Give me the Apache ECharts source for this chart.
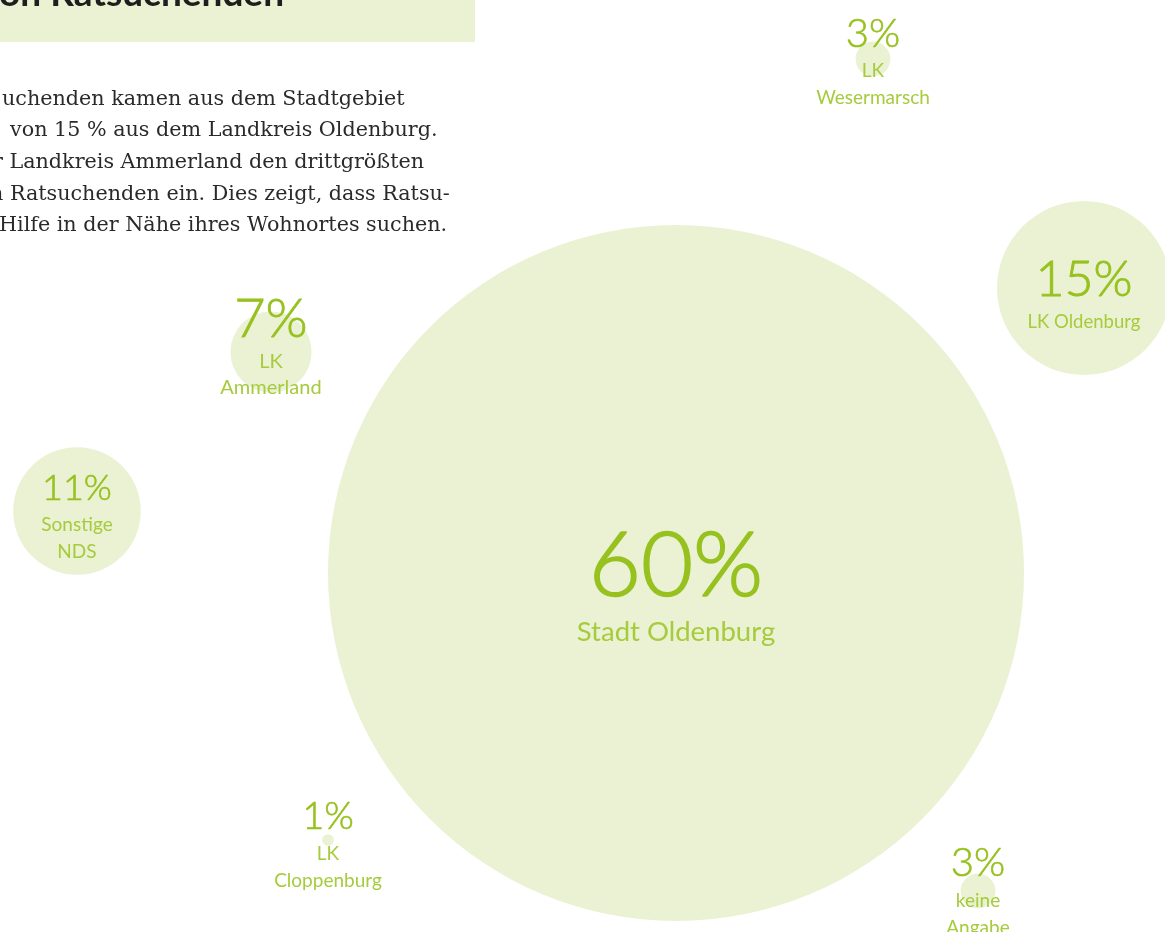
<!DOCTYPE html>
<html>
<head>
<meta charset="utf-8">
<script src="https://cdn.jsdelivr.net/npm/echarts@6/dist/echarts.min.js"></script>
<style>
html,body{margin:0;padding:0;background:#fff;}
#chart{width:1165px;height:932px;}
</style>
</head>
<body>
<div id="chart"></div>
<script>
// ---- data ----
const categories = ['Stadt Oldenburg', 'LK Oldenburg', 'Sonstige NDS', 'LK Ammerland', 'LK Wesermarsch', 'LK Cloppenburg', 'keine Angabe'];
const shares = [60, 15, 11, 7, 3, 1, 3];
const labelNames = ['Stadt Oldenburg', 'LK Oldenburg', 'Sonstige\nNDS', 'LK\nAmmerland', 'LK\nWesermarsch', 'LK\nCloppenburg', 'keine\nAngabe'];
const titleText = 'von Ratsuchenden';
const bodyLines = [
  'uchenden kamen aus dem Stadtgebiet',
  'von 15 % aus dem Landkreis Oldenburg.',
  'r Landkreis Ammerland den drittgrößten',
  'n Ratsuchenden ein. Dies zeigt, dass Ratsu-',
  'Hilfe in der Nähe ihres Wohnortes suchen.'
];

// ---- layout (bubble positions in layout units, label styling) ----
const posX = [676, 1084, 77, 271, 873, 328, 978];
const posY = [573, 288, 511, 352, 59, 840, 891];
const pctFont = [90, 50, 36, 54, 40, 38, 40];
const pctStroke = [1.6, 0.9, 0.6, 0.8, 0.6, 0.6, 0.6];
const nameFont = [27.5, 18.5, 19, 20, 19, 19, 19];
const pctRel = [-7, -9, -24, -33, -26, -24, -29];
const nameRel = [58, 33, 13, 9, 11, 13, 9];
const nameGap = [32, 26, 27, 26, 27, 27, 27];
const bias = 1;
const bodyX = [2, 10, -7, -10, -1];
const diameterPerPercent = 11.6;

const GREEN = '#97c11f';
const GREEN_LIGHT = '#a6cb3c';
const FILL = '#eaf2d3';
const FONT = 'Lato, "Open Sans", sans-serif';

const data = categories.map((c, i) => {
  const nLines = labelNames[i].split('\n').length;
  const Ln = nameGap[i];
  const Lp = 2 * (nameRel[i] - pctRel[i]) - Ln;
  const top = pctRel[i] + bias - Lp / 2;
  const h = Lp + nLines * Ln;
  const center = top + h / 2;
  const pad = center >= 0 ? [2 * center, 0, 0, 0] : [0, 0, -2 * center, 0];
  const nameTxt = labelNames[i].split('\n').map(s => '{n|' + s + '}').join('\n');
  return {
    name: c,
    value: [posX[i], posY[i], shares[i]],
    label: {
      show: true,
      position: 'inside',
      padding: pad,
      formatter: '{p|' + shares[i] + '%}\n' + nameTxt,
      rich: {
        p: { fontSize: pctFont[i], fontWeight: 300, lineHeight: Lp, color: GREEN, fontFamily: FONT, align: 'center',
             textBorderColor: GREEN, textBorderWidth: pctStroke[i] },
        n: { fontSize: nameFont[i], lineHeight: Ln, color: GREEN_LIGHT, fontFamily: FONT, align: 'center' }
      }
    }
  };
});

const graphics = [
  { type: 'rect', shape: { x: 0, y: 0, width: 475, height: 42 }, style: { fill: FILL }, z: 0 },
  { type: 'text', x: 284, y: 13, style: { text: titleText, fill: '#1e1e1e', font: 'bold 37px Lato, sans-serif', textAlign: 'right', textVerticalAlign: 'bottom' }, z: 1 }
];
bodyLines.forEach((t, i) => {
  graphics.push({ type: 'text', x: bodyX[i], y: 110 + i * 31.6,
    style: { text: t, fill: '#2a2a2a', font: '20.7px "DejaVu Serif", serif', textAlign: 'left', textVerticalAlign: 'bottom' } });
});

const chart = echarts.init(document.getElementById('chart'));
chart.setOption({
  animation: false,
  grid: { left: 0, right: 0, top: 0, bottom: 0 },
  xAxis: { type: 'value', min: 0, max: 1165, show: false },
  yAxis: { type: 'value', min: 0, max: 932, inverse: true, show: false },
  graphic: graphics,
  series: [{
    type: 'scatter',
    data: data,
    symbol: 'circle',
    symbolSize: v => v[2] * diameterPerPercent,
    itemStyle: { color: FILL, opacity: 1 },
    emphasis: { disabled: true },
    labelLayout: { hideOverlap: false },
    z: 2
  }]
});
</script>
</body>
</html>
